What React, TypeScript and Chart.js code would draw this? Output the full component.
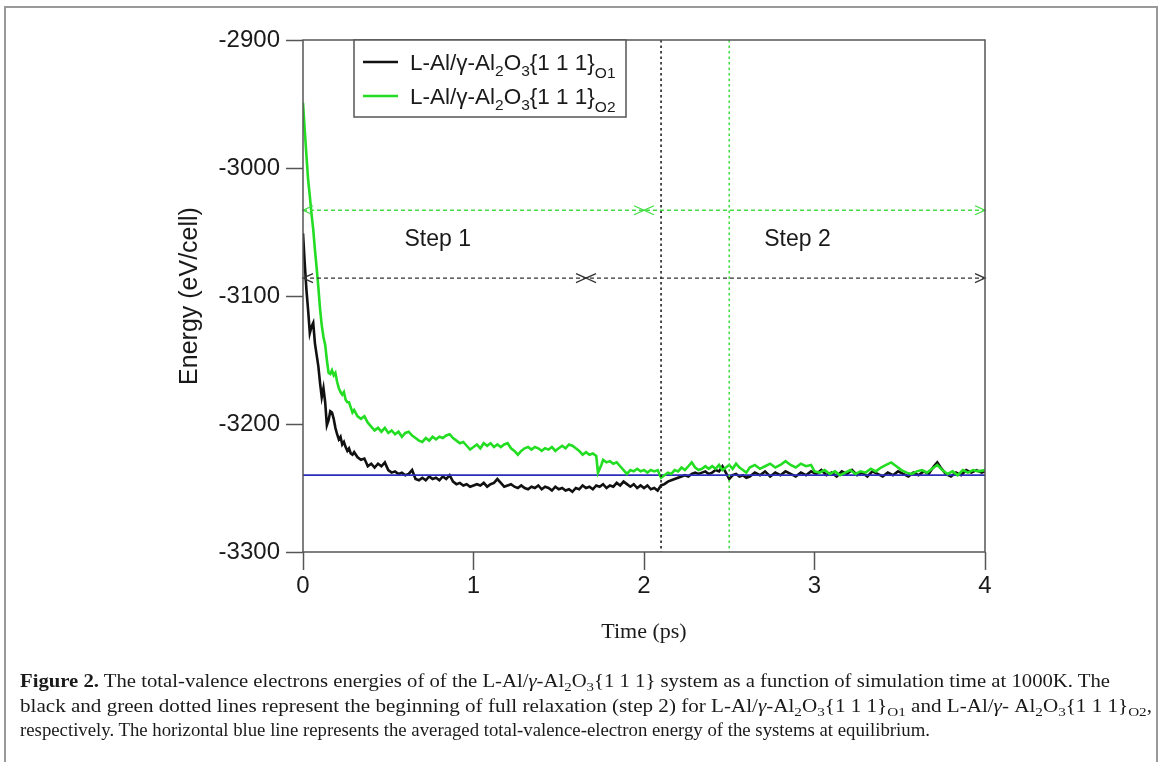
import React, { useEffect, useLayoutEffect, useRef } from "react";
import { Chart, registerables } from "chart.js";
Chart.register(...registerables);

const timeTicks = [0, 1, 2, 3, 4];
const energyTicks = [-2900, -3000, -3100, -3200, -3300];

// L-Al/γ-Al2O3{1 1 1}O1 (black) : [time (ps), energy (eV/cell)]
const seriesO1: [number, number][] = [
  [0.0, -3051], [0.01, -3074], [0.02, -3095], [0.03, -3111], [0.04, -3129], [0.05, -3124],
  [0.06, -3121], [0.07, -3137], [0.08, -3146], [0.09, -3155], [0.1, -3168], [0.11, -3179],
  [0.12, -3172], [0.13, -3183], [0.14, -3201], [0.15, -3197], [0.16, -3190], [0.17, -3191],
  [0.18, -3196], [0.19, -3203], [0.2, -3208], [0.21, -3212], [0.22, -3210], [0.23, -3216],
  [0.24, -3214], [0.25, -3218], [0.26, -3221], [0.27, -3219], [0.28, -3223], [0.29, -3224],
  [0.3, -3222], [0.32, -3226], [0.34, -3228], [0.36, -3227], [0.38, -3233], [0.4, -3231],
  [0.42, -3234], [0.44, -3231], [0.46, -3233], [0.48, -3230], [0.5, -3236], [0.52, -3238],
  [0.54, -3237], [0.56, -3239], [0.58, -3238], [0.6, -3240], [0.62, -3239], [0.64, -3236],
  [0.66, -3243], [0.68, -3244], [0.7, -3242], [0.72, -3244], [0.74, -3241], [0.76, -3243],
  [0.78, -3242], [0.8, -3244], [0.82, -3241], [0.84, -3243], [0.86, -3240], [0.88, -3245],
  [0.9, -3247], [0.92, -3246], [0.94, -3248], [0.96, -3247], [0.98, -3249], [1.0, -3248],
  [1.02, -3247], [1.04, -3248], [1.06, -3246], [1.08, -3249], [1.1, -3247], [1.12, -3246],
  [1.14, -3243], [1.16, -3246], [1.18, -3249], [1.2, -3248], [1.22, -3247], [1.24, -3249],
  [1.26, -3250], [1.28, -3248], [1.3, -3250], [1.32, -3251], [1.34, -3249], [1.36, -3250],
  [1.38, -3248], [1.4, -3251], [1.42, -3249], [1.44, -3250], [1.46, -3252], [1.48, -3249],
  [1.5, -3251], [1.52, -3250], [1.54, -3252], [1.56, -3251], [1.58, -3253], [1.6, -3250],
  [1.62, -3251], [1.64, -3248], [1.66, -3250], [1.68, -3249], [1.7, -3251], [1.72, -3248],
  [1.74, -3249], [1.76, -3247], [1.78, -3250], [1.8, -3248], [1.82, -3249], [1.84, -3246],
  [1.86, -3248], [1.88, -3245], [1.9, -3247], [1.92, -3249], [1.94, -3247], [1.96, -3250],
  [1.98, -3248], [2.0, -3250], [2.02, -3248], [2.04, -3251], [2.06, -3250], [2.08, -3252],
  [2.1, -3248], [2.12, -3247], [2.14, -3245], [2.16, -3244], [2.18, -3243], [2.2, -3242],
  [2.22, -3241], [2.24, -3240], [2.26, -3241], [2.28, -3239], [2.3, -3238], [2.32, -3239],
  [2.34, -3238], [2.36, -3237], [2.38, -3239], [2.4, -3238], [2.42, -3236], [2.44, -3237],
  [2.46, -3233], [2.48, -3238], [2.5, -3243], [2.52, -3240], [2.54, -3239], [2.56, -3241],
  [2.58, -3240], [2.6, -3242], [2.62, -3241], [2.65, -3238], [2.68, -3240], [2.71, -3237],
  [2.74, -3241], [2.77, -3238], [2.8, -3240], [2.83, -3237], [2.86, -3239], [2.89, -3241],
  [2.92, -3238], [2.95, -3240], [2.98, -3237], [3.01, -3239], [3.04, -3236], [3.07, -3240],
  [3.1, -3238], [3.13, -3241], [3.16, -3237], [3.19, -3239], [3.22, -3236], [3.25, -3240],
  [3.28, -3238], [3.31, -3241], [3.34, -3237], [3.37, -3239], [3.4, -3241], [3.43, -3238],
  [3.46, -3240], [3.49, -3237], [3.52, -3239], [3.55, -3241], [3.58, -3238], [3.61, -3240],
  [3.64, -3237], [3.67, -3239], [3.7, -3233], [3.72, -3230], [3.74, -3234], [3.77, -3239],
  [3.8, -3241], [3.83, -3238], [3.86, -3240], [3.89, -3236], [3.92, -3238], [3.95, -3236],
  [3.98, -3238], [4.0, -3237],
];

// L-Al/γ-Al2O3{1 1 1}O2 (green)
const seriesO2: [number, number][] = [
  [0.0, -2949], [0.01, -2970], [0.02, -2990], [0.03, -3009], [0.04, -3022], [0.05, -3036],
  [0.06, -3048], [0.07, -3064], [0.08, -3078], [0.09, -3093], [0.1, -3110], [0.11, -3123],
  [0.12, -3132], [0.13, -3138], [0.14, -3150], [0.15, -3160], [0.16, -3161], [0.17, -3158],
  [0.18, -3162], [0.19, -3160], [0.2, -3167], [0.21, -3172], [0.22, -3175], [0.23, -3177],
  [0.24, -3175], [0.25, -3181], [0.26, -3183], [0.27, -3183], [0.28, -3187], [0.29, -3191],
  [0.3, -3189], [0.32, -3194], [0.34, -3196], [0.36, -3194], [0.38, -3199], [0.4, -3202],
  [0.42, -3205], [0.44, -3203], [0.46, -3206], [0.48, -3203], [0.5, -3207], [0.52, -3205],
  [0.54, -3208], [0.56, -3206], [0.58, -3210], [0.6, -3207], [0.62, -3206], [0.64, -3209],
  [0.66, -3211], [0.68, -3213], [0.7, -3214], [0.72, -3211], [0.74, -3213], [0.76, -3210],
  [0.78, -3212], [0.8, -3210], [0.82, -3211], [0.84, -3209], [0.86, -3208], [0.88, -3211],
  [0.9, -3213], [0.92, -3215], [0.94, -3214], [0.96, -3217], [0.98, -3220], [1.0, -3218],
  [1.02, -3216], [1.04, -3219], [1.06, -3215], [1.08, -3217], [1.1, -3215], [1.12, -3218],
  [1.14, -3216], [1.16, -3218], [1.18, -3216], [1.2, -3215], [1.22, -3219], [1.24, -3221],
  [1.26, -3224], [1.28, -3221], [1.3, -3219], [1.32, -3218], [1.34, -3220], [1.36, -3218],
  [1.38, -3219], [1.4, -3221], [1.42, -3219], [1.44, -3220], [1.46, -3218], [1.48, -3221],
  [1.5, -3219], [1.52, -3217], [1.54, -3219], [1.56, -3216], [1.58, -3217], [1.6, -3219],
  [1.62, -3221], [1.64, -3224], [1.66, -3222], [1.68, -3224], [1.7, -3223], [1.72, -3225],
  [1.73, -3238], [1.75, -3232], [1.76, -3228], [1.78, -3230], [1.8, -3229], [1.82, -3231],
  [1.84, -3230], [1.86, -3233], [1.88, -3236], [1.9, -3239], [1.92, -3236], [1.94, -3237],
  [1.96, -3235], [1.98, -3237], [2.0, -3236], [2.02, -3238], [2.04, -3236], [2.06, -3237],
  [2.08, -3236], [2.1, -3242], [2.12, -3240], [2.14, -3238], [2.16, -3239], [2.18, -3236],
  [2.2, -3237], [2.22, -3234], [2.24, -3236], [2.26, -3233], [2.28, -3230], [2.3, -3234],
  [2.32, -3236], [2.34, -3235], [2.36, -3233], [2.38, -3235], [2.4, -3233], [2.42, -3235],
  [2.44, -3232], [2.46, -3236], [2.48, -3234], [2.5, -3232], [2.52, -3235], [2.54, -3231],
  [2.56, -3234], [2.58, -3236], [2.6, -3238], [2.62, -3234], [2.65, -3232], [2.68, -3235],
  [2.71, -3233], [2.74, -3231], [2.77, -3234], [2.8, -3232], [2.83, -3229], [2.86, -3232],
  [2.89, -3234], [2.92, -3231], [2.95, -3233], [2.98, -3232], [3.0, -3237], [3.03, -3238],
  [3.06, -3236], [3.09, -3239], [3.12, -3237], [3.15, -3240], [3.18, -3238], [3.21, -3236],
  [3.24, -3239], [3.27, -3237], [3.3, -3238], [3.33, -3235], [3.36, -3237], [3.39, -3234],
  [3.42, -3232], [3.45, -3230], [3.48, -3233], [3.51, -3236], [3.54, -3238], [3.57, -3239],
  [3.6, -3237], [3.63, -3236], [3.66, -3238], [3.69, -3235], [3.72, -3232], [3.75, -3236],
  [3.78, -3239], [3.81, -3237], [3.84, -3240], [3.87, -3236], [3.9, -3238], [3.93, -3236],
  [3.96, -3237], [4.0, -3236],
];

const equilibriumEnergy = -3240;
const equilibriumSpan = [0, 4];
const stepStartO1 = 2.1;
const stepStartO2 = 2.5;
const stepArrowO1 = [0, 1.66, 4];
const stepArrowO1Energy = -3086;
const stepArrowO2 = [0, 2.0, 4];
const stepArrowO2Energy = -3033;
const stepLabelTexts = ["Step 1", "Step 2"];
const stepLabelTimes = [0.79, 2.9];
const stepLabelEnergy = -3056;

type Part = { t: string; sub?: number };
const legendO1: Part[] = [
  { t: "L-Al/γ-Al" }, { t: "2", sub: 6 }, { t: "O" }, { t: "3", sub: 6 }, { t: "{1 1 1}" }, { t: "O1", sub: 8 },
];
const legendO2: Part[] = [
  { t: "L-Al/γ-Al" }, { t: "2", sub: 6 }, { t: "O" }, { t: "3", sub: 6 }, { t: "{1 1 1}" }, { t: "O2", sub: 8 },
];

const BLACK = "#111111";
const GREEN = "#22dd22";
const GREEN_DOT = "#44dd44";
const BLUE = "#2d2dbb";
const AXIS = "#555555";
const SANS = "'Liberation Sans', Arial, sans-serif";
const SERIF = "'Liberation Serif', 'Times New Roman', serif";

function drawRich(ctx: CanvasRenderingContext2D, x: number, y: number, parts: Part[], size: number, subSize: number) {
  let cx = x;
  ctx.textBaseline = "alphabetic";
  ctx.textAlign = "left";
  for (const p of parts) {
    if (p.sub) {
      ctx.font = `${subSize}px ${SANS}`;
      ctx.fillText(p.t, cx, y + p.sub);
    } else {
      ctx.font = `${size}px ${SANS}`;
      ctx.fillText(p.t, cx, y);
    }
    cx += ctx.measureText(p.t).width;
  }
}

function arrowHead(ctx: CanvasRenderingContext2D, x: number, y: number, dir: number) {
  ctx.save();
  ctx.setLineDash([]);
  ctx.beginPath();
  ctx.moveTo(x - dir * 10, y - 4.5);
  ctx.lineTo(x, y);
  ctx.lineTo(x - dir * 10, y + 4.5);
  ctx.stroke();
  ctx.restore();
}

const overlayPlugin = {
  id: "overlay",
  afterDatasetsDraw(chart: any) {
    const { ctx, chartArea, scales } = chart;
    const xs = scales.x;
    const ys = scales.y;
    ctx.save();
    const verticals: [number, string][] = [[stepStartO1, "#222"], [stepStartO2, GREEN_DOT]];
    for (const [t, c] of verticals) {
      const px = xs.getPixelForValue(t);
      ctx.strokeStyle = c;
      ctx.lineWidth = 1.6;
      ctx.setLineDash([2.5, 3]);
      ctx.beginPath();
      ctx.moveTo(px, chartArea.top);
      ctx.lineTo(px, chartArea.bottom);
      ctx.stroke();
    }
    const arrows: [number[], number, string][] = [
      [stepArrowO2, stepArrowO2Energy, GREEN_DOT],
      [stepArrowO1, stepArrowO1Energy, "#333"],
    ];
    for (const [pts, e, c] of arrows) {
      const py = ys.getPixelForValue(e);
      const x0 = xs.getPixelForValue(pts[0]);
      const xm = xs.getPixelForValue(pts[1]);
      const x1 = xs.getPixelForValue(pts[2]);
      ctx.strokeStyle = c;
      ctx.lineWidth = 1.3;
      ctx.setLineDash([4, 3]);
      ctx.beginPath();
      ctx.moveTo(x0, py);
      ctx.lineTo(x1, py);
      ctx.stroke();
      arrowHead(ctx, x0, py, -1);
      arrowHead(ctx, xm, py, 1);
      arrowHead(ctx, xm, py, -1);
      arrowHead(ctx, x1, py, 1);
    }
    ctx.setLineDash([]);
    ctx.fillStyle = "#1a1a1a";
    ctx.font = `23px ${SANS}`;
    ctx.textAlign = "center";
    ctx.textBaseline = "middle";
    stepLabelTexts.forEach((s, i) => {
      ctx.fillText(s, xs.getPixelForValue(stepLabelTimes[i]), ys.getPixelForValue(stepLabelEnergy));
    });
    ctx.strokeStyle = AXIS;
    ctx.lineWidth = 1.5;
    ctx.strokeRect(chartArea.left, chartArea.top, chartArea.right - chartArea.left, chartArea.bottom - chartArea.top);
    const lx = 354, ly = chartArea.top, lw = 272, lh = 77;
    ctx.fillStyle = "#ffffff";
    ctx.fillRect(lx, ly, lw, lh);
    ctx.strokeRect(lx, ly, lw, lh);
    const entries: [Part[], string, number][] = [[legendO1, BLACK, 62], [legendO2, GREEN, 96]];
    for (const [parts, c, yy] of entries) {
      ctx.strokeStyle = c;
      ctx.lineWidth = 2.5;
      ctx.beginPath();
      ctx.moveTo(363, yy);
      ctx.lineTo(398, yy);
      ctx.stroke();
      ctx.fillStyle = "#1a1a1a";
      drawRich(ctx, 410, yy + 8, parts, 22.5, 15.5);
    }
    ctx.restore();
  },
};

const captionTargets = [1090, 1132, 910];

export default function App() {
  const canvasRef = useRef<HTMLCanvasElement | null>(null);
  const lineRefs = useRef<(HTMLSpanElement | null)[]>([]);

  useEffect(() => {
    if (!canvasRef.current) return;
    const chart = new Chart(canvasRef.current, {
      type: "line",
      data: {
        datasets: [
          {
            label: "O2",
            data: seriesO2.map(([x, y]) => ({ x, y })),
            borderColor: GREEN,
            borderWidth: 2.6,
            pointRadius: 0,
            tension: 0,
            order: 0,
          },
          {
            label: "Equilibrium",
            data: equilibriumSpan.map((x) => ({ x, y: equilibriumEnergy })),
            borderColor: BLUE,
            borderWidth: 1.8,
            pointRadius: 0,
            order: 1,
          },
          {
            label: "O1",
            data: seriesO1.map(([x, y]) => ({ x, y })),
            borderColor: BLACK,
            borderWidth: 2.6,
            pointRadius: 0,
            tension: 0,
            order: 2,
          },
        ],
      },
      options: {
        animation: false,
        responsive: false,
        devicePixelRatio: 1,
        events: [],
        layout: { padding: { left: 0, top: 40, right: 185, bottom: 117 } },
        plugins: { legend: { display: false }, tooltip: { enabled: false } },
        scales: {
          x: {
            type: "linear",
            min: timeTicks[0],
            max: timeTicks[timeTicks.length - 1],
            afterFit: (s: any) => { s.height = 93; },
            afterBuildTicks: (s: any) => { s.ticks = timeTicks.map((v) => ({ value: v })); },
            border: { display: false },
            grid: { drawOnChartArea: false, drawTicks: true, tickLength: 18, tickColor: AXIS, tickWidth: 1.5 },
            ticks: { color: "#1a1a1a", font: { family: SANS, size: 24 }, padding: 2, maxRotation: 0, callback: (v: any) => String(v) },
            title: { display: true, text: "Time (ps)", color: "#1a1a1a", font: { family: SERIF, size: 22 }, padding: 0 },
          },
          y: {
            type: "linear",
            min: energyTicks[energyTicks.length - 1],
            max: energyTicks[0],
            afterFit: (s: any) => { s.width = 303; },
            afterBuildTicks: (s: any) => { s.ticks = energyTicks.map((v) => ({ value: v })); },
            border: { display: false },
            grid: { drawOnChartArea: false, drawTicks: true, tickLength: 17, tickColor: AXIS, tickWidth: 1.5 },
            ticks: { color: "#1a1a1a", font: { family: SANS, size: 24 }, padding: 6, callback: (v: any) => String(v) },
            title: { display: true, text: "Energy (eV/cell)", color: "#1a1a1a", font: { family: SANS, size: 25 }, padding: { top: 175, bottom: 0 } },
          },
        },
      },
      plugins: [overlayPlugin],
    } as any);
    return () => chart.destroy();
  }, []);

  useLayoutEffect(() => {
    lineRefs.current.forEach((el, i) => {
      if (!el) return;
      el.style.transform = "none";
      const w = el.getBoundingClientRect().width;
      if (w > 0) el.style.transform = `scaleX(${captionTargets[i] / w})`;
    });
  }, []);

  const lineStyle: React.CSSProperties = {
    position: "absolute",
    left: 20,
    whiteSpace: "nowrap",
    transformOrigin: "left center",
    display: "inline-block",
  };
  const sub: React.CSSProperties = { fontSize: "0.72em", verticalAlign: "-0.28em", lineHeight: 0 };

  return (
    <div style={{ position: "absolute", left: 0, top: 0, width: 1170, height: 762, overflow: "hidden", background: "#fff" }}>
      <div style={{ position: "absolute", left: 4, top: 6, width: 1154, height: 800, border: "2px solid #999", boxSizing: "border-box" }} />
      <canvas ref={canvasRef} width={1170} height={762} style={{ position: "absolute", left: 0, top: 0 }} />
      <div style={{ position: "absolute", left: 0, top: 0, width: 1170, height: 762, fontFamily: SERIF, fontSize: 18, color: "#1a1a1a" }}>
        <span ref={(el) => { lineRefs.current[0] = el; }} style={{ ...lineStyle, top: 671 }}>
          <b>Figure 2.</b> The total-valence electrons energies of of the L-Al/<i>γ</i>-Al<span style={sub}>2</span>O<span style={sub}>3</span>{"{1 1 1}"} system as a function of simulation time at 1000K. The
        </span>
        <span ref={(el) => { lineRefs.current[1] = el; }} style={{ ...lineStyle, top: 696 }}>
          black and green dotted lines represent the beginning of full relaxation (step 2) for L-Al/<i>γ</i>-Al<span style={sub}>2</span>O<span style={sub}>3</span>{"{1 1 1}"}<span style={sub}>O1</span> and L-Al/<i>γ</i>- Al<span style={sub}>2</span>O<span style={sub}>3</span>{"{1 1 1}"}<span style={sub}>O2</span>,
        </span>
        <span ref={(el) => { lineRefs.current[2] = el; }} style={{ ...lineStyle, top: 720 }}>
          respectively. The horizontal blue line represents the averaged total-valence-electron energy of the systems at equilibrium.
        </span>
      </div>
    </div>
  );
}
